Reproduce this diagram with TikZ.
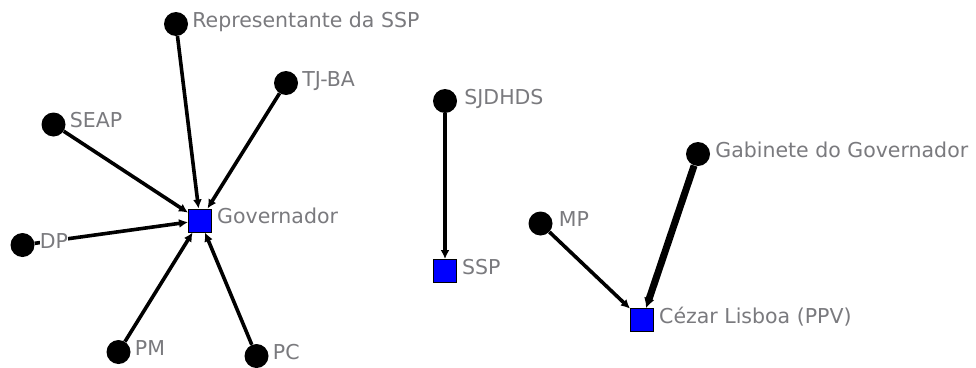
\documentclass[tikz,border=0pt]{standalone}
\usepackage{fontspec}
\setmainfont{DejaVu Sans}
\usetikzlibrary{arrows.meta,backgrounds}
\definecolor{lblgray}{RGB}{122,122,126}
\begin{document}
\begin{tikzpicture}[x=1pt,y=-1pt,
  actor/.style={circle,fill=black,inner sep=0pt,minimum size=24pt},
  target/.style={rectangle,fill=blue,draw=black,line width=1pt,inner sep=0pt,minimum size=23pt},
  lbl/.style={anchor=base west,text=lblgray,fill=white,inner sep=0pt,
    font=\fontsize{20.5}{24}\selectfont},
  tie/.style={line width=3.6pt,-{Latex[length=9pt,width=9pt]}},
  strongtie/.style={line width=7pt,-{Latex[length=10pt,width=11pt]}}]
\useasboundingbox (0,0) rectangle (976,367);

% cluster around the Governador
\node[target] (gov) at (200,220.5) {};
\node[actor] (rep)  at (176,24) {};
\node[actor] (tjba) at (286,83) {};
\node[actor] (seap) at (53.5,124.5) {};
\node[actor] (dp)   at (22.5,245) {};
\node[actor] (pm)   at (118.5,352) {};
\node[actor] (pc)   at (256.5,356) {};

% SJDHDS -> SSP
\node[target] (ssp) at (445,271) {};
\node[actor] (sjdhds) at (445,101) {};

% cluster around Cezar Lisboa
\node[target] (cezar) at (642,320) {};
\node[actor] (mp)  at (540.5,223.5) {};
\node[actor] (gab) at (698,154) {};

% labels
\node[lbl] (gov-l)    at ([xshift=5pt,yshift=-3pt]gov.east) {Governador};
\node[lbl] (rep-l)    at ([xshift=4pt,yshift=-3pt]rep.east) {Representante da SSP};
\node[lbl] (tjba-l)   at ([xshift=4pt,yshift=-3pt]tjba.east) {TJ-BA};
\node[lbl] (seap-l)   at ([xshift=4pt,yshift=-3pt]seap.east) {SEAP};
\node[lbl] (dp-l)     at ([xshift=5pt,yshift=-3pt]dp.east) {DP};
\node[lbl] (pm-l)     at ([xshift=4pt,yshift=-3pt]pm.east) {PM};
\node[lbl] (pc-l)     at ([xshift=4pt,yshift=-3pt]pc.east) {PC};
\node[lbl] (ssp-l)    at ([xshift=5pt,yshift=-3pt]ssp.east) {SSP};
\node[lbl] (sjdhds-l) at ([xshift=7pt,yshift=-3pt]sjdhds.east) {SJDHDS};
\node[lbl] (cezar-l)  at ([xshift=5pt,yshift=-3pt]cezar.east) {Cézar Lisboa (PPV)};
\node[lbl] (mp-l)     at ([xshift=6pt,yshift=-3pt]mp.east) {MP};
\node[lbl] (gab-l)    at ([xshift=5pt,yshift=-3pt]gab.east) {Gabinete do Governador};

% ties, kept under the labels
\begin{pgfonlayer}{background}
\draw[tie] (rep)  -- (gov);
\draw[tie] (tjba) -- (gov);
\draw[tie] (seap) -- (gov);
\draw[tie] (dp)   -- (gov);
\draw[tie] (pm)   -- (gov);
\draw[tie] (pc)   -- (gov);
\draw[tie] (sjdhds) -- (ssp);
\draw[tie] (mp) -- (cezar);
\draw[strongtie] (gab) -- (cezar);
\end{pgfonlayer}
\end{tikzpicture}
\end{document}
